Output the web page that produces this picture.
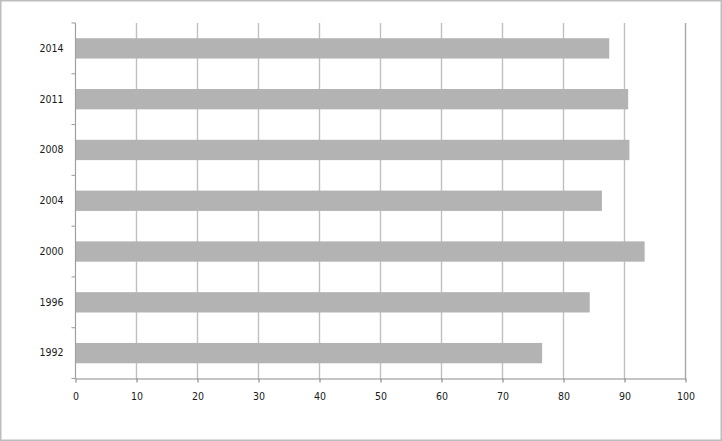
<!DOCTYPE html>
<html>
<head>
<meta charset="utf-8">
<script src="https://cdn.jsdelivr.net/npm/d3@7"></script>
<style>
  body { margin: 0; background: #fff; }
</style>
</head>
<body>
<div id="chart"></div>
<script>
// years from top to bottom, as shown
var years = ['2014', '2011', '2008', '2004', '2000', '1996', '1992']
var values = [87.5, 90.6, 90.8, 86.3, 93.3, 84.3, 76.5]
var xTicks = [0, 10, 20, 30, 40, 50, 60, 70, 80, 90, 100]

var W = 722
var H = 441
var margin = { top: 23, right: 36.5, bottom: 62.5, left: 75.5 }
var width = W - margin.left - margin.right
var height = H - margin.top - margin.bottom
var labelFont = "'DejaVu Sans Condensed', 'DejaVu Sans', sans-serif"

var root = d3
  .select('#chart')
  .append('svg')
  .attr('width', W)
  .attr('height', H)

// outer chart border
root
  .append('rect')
  .attr('x', 0.75)
  .attr('y', 0.75)
  .attr('width', W - 1.5)
  .attr('height', H - 1.5)
  .attr('fill', '#fff')
  .attr('stroke', '#bdbdbd')
  .attr('stroke-width', 1.5)

var svg = root
  .append('g')
  .attr('transform', 'translate(' + margin.left + ',' + margin.top + ')')

var xPositionScale = d3
  .scaleLinear()
  .domain([0, 100])
  .range([0, width])

var yPositionScale = d3
  .scaleBand()
  .domain(years)
  .range([0, height])
  .paddingInner(0.6)
  .paddingOuter(0.3)

// gridlines
svg
  .selectAll('.grid')
  .data(xTicks.slice(1))
  .enter()
  .append('line')
  .attr('class', 'grid')
  .attr('x1', d => xPositionScale(d))
  .attr('x2', d => xPositionScale(d))
  .attr('y1', 0)
  .attr('y2', height)
  .attr('stroke', d => (d === 100 ? '#a6a6a6' : '#c0c0c0'))
  .attr('stroke-width', 1.4)

// bars
svg
  .selectAll('.bar')
  .data(values)
  .enter()
  .append('rect')
  .attr('class', 'bar')
  .attr('x', 0)
  .attr('y', (d, i) => yPositionScale(years[i]))
  .attr('width', d => xPositionScale(d))
  .attr('height', yPositionScale.bandwidth())
  .attr('fill', '#b3b3b3')

// y axis: labels centred on bars, ticks at band boundaries
var yAxis = d3
  .axisLeft(yPositionScale)
  .tickSize(0)
  .tickPadding(12)
svg
  .append('g')
  .attr('class', 'axis y-axis')
  .call(yAxis)

svg.select('.y-axis .domain').remove()

var step = yPositionScale.step()
svg
  .selectAll('.ytick')
  .data(d3.range(years.length + 1))
  .enter()
  .append('line')
  .attr('class', 'ytick')
  .attr('x1', -4)
  .attr('x2', 0)
  .attr('y1', d => d * step)
  .attr('y2', d => d * step)
  .attr('stroke', '#9a9a9a')
  .attr('stroke-width', 1)

svg
  .append('line')
  .attr('x1', 0)
  .attr('x2', 0)
  .attr('y1', 0)
  .attr('y2', height)
  .attr('stroke', '#a0a0a0')
  .attr('stroke-width', 1.2)

// x axis
var xAxis = d3
  .axisBottom(xPositionScale)
  .tickValues(xTicks)
  .tickSize(4)
  .tickSizeOuter(0)
  .tickPadding(10)

svg
  .append('g')
  .attr('class', 'axis x-axis')
  .attr('transform', 'translate(0,' + height + ')')
  .call(xAxis)

svg.selectAll('.x-axis path, .x-axis line')
  .attr('stroke', '#8c8c8c')
  .attr('stroke-width', 1.2)
svg.selectAll('.axis text')
  .attr('font-family', labelFont)
  .attr('font-size', '10.5px')
  .attr('fill', '#1a1a1a')
</script>
</body>
</html>
